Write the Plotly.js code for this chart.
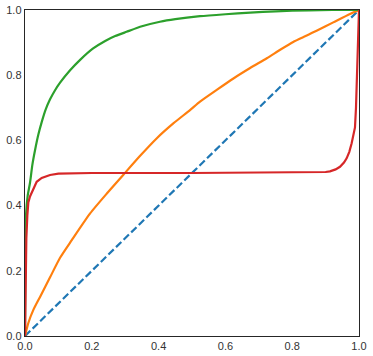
<!DOCTYPE html>
<html>
<head>
<meta charset="utf-8">
<script src="https://cdn.plot.ly/plotly-3.0.1.min.js"></script>
<style>html,body{margin:0;padding:0;background:#fff;}#chart{width:373px;height:356px;}</style>
</head>
<body>
<div id="chart"></div>
<script>
const diagX = [0, 1];
const diagY = [0, 1];

const orangeX = [0, 0.01, 0.025, 0.045, 0.075, 0.105, 0.14, 0.195, 0.245, 0.294, 0.344, 0.394, 0.444, 0.494, 0.524, 0.574, 0.624, 0.674, 0.724, 0.764, 0.803, 0.84, 0.873, 0.923, 0.973, 1];
const orangeY = [0, 0.04, 0.08, 0.12, 0.18, 0.24, 0.294, 0.376, 0.437, 0.494, 0.552, 0.606, 0.652, 0.693, 0.719, 0.755, 0.79, 0.822, 0.852, 0.878, 0.902, 0.92, 0.936, 0.962, 0.988, 1];

const greenX = [0, 0.001, 0.003, 0.008, 0.015, 0.022, 0.03, 0.04, 0.05, 0.062, 0.075, 0.09, 0.105, 0.135, 0.165, 0.204, 0.24, 0.27, 0.304, 0.35, 0.404, 0.45, 0.524, 0.6, 0.674, 0.75, 0.85, 0.92, 1];
const greenY = [0, 0.25, 0.37, 0.43, 0.47, 0.525, 0.57, 0.618, 0.656, 0.695, 0.726, 0.754, 0.777, 0.815, 0.847, 0.882, 0.905, 0.92, 0.933, 0.95, 0.964, 0.972, 0.981, 0.987, 0.992, 0.996, 0.999, 1.0, 1.0];

const redX = [0, 0.001, 0.002, 0.004, 0.007, 0.01, 0.015, 0.02, 0.027, 0.035, 0.05, 0.075, 0.1, 0.2, 0.5, 0.85, 0.9, 0.913, 0.93, 0.943, 0.955, 0.963, 0.971, 0.978, 0.984, 0.988, 0.991, 0.994, 0.997, 1];
const redY = [0, 0.12, 0.22, 0.3, 0.37, 0.41, 0.428, 0.44, 0.458, 0.473, 0.485, 0.494, 0.498, 0.5, 0.5, 0.501, 0.503, 0.505, 0.511, 0.519, 0.532, 0.545, 0.565, 0.591, 0.615, 0.64, 0.7, 0.8, 0.93, 1];

const tickVals = [0, 0.2, 0.4, 0.6, 0.8, 1.0];
const tickText = ["0.0", "0.2", "0.4", "0.6", "0.8", "1.0"];

const traces = [
  {x: diagX, y: diagY, mode: 'lines', line: {color: '#1f77b4', width: 2.2, dash: '7.4px,3.2px'}},
  {x: orangeX, y: orangeY, mode: 'lines', line: {color: '#ff7f0e', width: 2.2, shape: 'spline', smoothing: 0.6}},
  {x: greenX, y: greenY, mode: 'lines', line: {color: '#2ca02c', width: 2.2, shape: 'spline', smoothing: 0.6}},
  {x: redX, y: redY, mode: 'lines', line: {color: '#d62728', width: 2.2}}
];

const axisCommon = {
  range: [0, 1],
  tickvals: tickVals,
  ticktext: tickText,
  showgrid: false,
  zeroline: false,
  showline: true,
  mirror: true,
  linecolor: '#262626',
  linewidth: 1.25,
  ticks: '',
  tickfont: {family: 'Liberation Sans, Arial, sans-serif', size: 11, color: '#333'}
};

const layout = {
  width: 373,
  height: 356,
  margin: {l: 25, r: 14, t: 10, b: 20},
  paper_bgcolor: '#fff',
  plot_bgcolor: '#fff',
  showlegend: false,
  xaxis: Object.assign({}, axisCommon),
  yaxis: Object.assign({}, axisCommon)
};

Plotly.newPlot('chart', traces, layout, {displayModeBar: false, staticPlot: true});
</script>
</body>
</html>
